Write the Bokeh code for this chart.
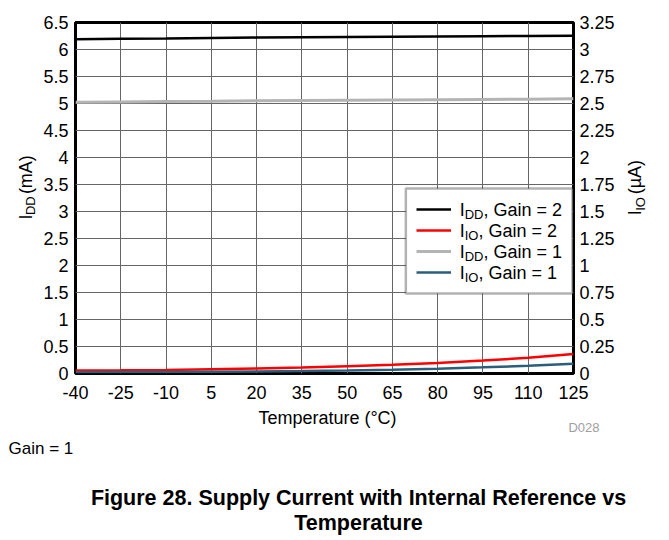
import math
from bokeh.plotting import figure
from bokeh.layouts import row, column
from bokeh.models import (Range1d, LinearAxis, FixedTicker, Legend, LegendItem,
                          Label, BoxAnnotation)
from bokeh.embed import file_html
from bokeh.resources import INLINE

# ---------------- data ----------------
temps = [-40, -25, -10, 5, 20, 35, 50, 65, 80, 95, 110, 125]
idd_gain2 = [6.19, 6.20, 6.205, 6.215, 6.22, 6.225, 6.23, 6.235, 6.24, 6.245, 6.25, 6.255]
iio_gain2 = [0.028, 0.030, 0.033, 0.040, 0.046, 0.056, 0.068, 0.080, 0.097, 0.120, 0.145, 0.180]
idd_gain1 = [5.025, 5.03, 5.035, 5.04, 5.05, 5.055, 5.06, 5.065, 5.07, 5.075, 5.08, 5.088]
iio_gain1 = [0.012, 0.013, 0.014, 0.016, 0.019, 0.023, 0.028, 0.035, 0.045, 0.057, 0.072, 0.090]

x_ticks = [-40, -25, -10, 5, 20, 35, 50, 65, 80, 95, 110, 125]
x_labels = ["-40", "-25", "-10", "5", "20", "35", "50", "65", "80", "95", "110", "125"]
yl_ticks = [0, 0.5, 1, 1.5, 2, 2.5, 3, 3.5, 4, 4.5, 5, 5.5, 6, 6.5]
yl_labels = ["0", "0.5", "1", "1.5", "2", "2.5", "3", "3.5", "4", "4.5", "5", "5.5", "6", "6.5"]
yr_ticks = [0, 0.25, 0.5, 0.75, 1, 1.25, 1.5, 1.75, 2, 2.25, 2.5, 2.75, 3, 3.25]
yr_labels = ["0", "0.25", "0.5", "0.75", "1", "1.25", "1.5", "1.75", "2", "2.25", "2.5", "2.75", "3", "3.25"]

FONT = "Liberation Sans"
TOTAL_W, TOTAL_H = 665, 536
LW, RX = 40, 622           # left title strip width, start x of right title strip
ROW_Y0, ROW_Y1 = 8, 406    # vertical extent of the chart row (page px)
FL, FT, FR, FB = 74, 22, 573, 373  # plot frame in page pixels
MAIN, SUB = 18, 13

# ---------------- main chart ----------------
p = figure(width=RX - LW, height=ROW_Y1 - ROW_Y0, x_range=Range1d(-40, 125),
           y_range=Range1d(0, 6.5), output_backend="svg", toolbar_location=None,
           min_border_left=FL - LW, min_border_right=RX - FR,
           min_border_top=FT - ROW_Y0, min_border_bottom=ROW_Y1 - FB)
p.extra_y_ranges = {"right": Range1d(0, 3.25)}
p.add_layout(LinearAxis(y_range_name="right"), "right")

p.background_fill_color = "white"
p.border_fill_color = "white"
p.outline_line_color = "black"
p.outline_line_width = 3

for ax, ticks, labels in ((p.xaxis[0], x_ticks, x_labels),
                          (p.yaxis[0], yl_ticks, yl_labels),
                          (p.yaxis[1], yr_ticks, yr_labels)):
    ax.ticker = FixedTicker(ticks=ticks)
    ax.major_label_overrides = {t: l for t, l in zip(ticks, labels)}
    ax.axis_line_color = None
    ax.major_tick_line_color = None
    ax.minor_tick_line_color = None
    ax.major_tick_out = 0
    ax.major_tick_in = 0
    ax.major_label_text_font = FONT
    ax.major_label_text_font_size = f"{MAIN}px"
    ax.major_label_text_color = "black"
    ax.major_label_standoff = 7
p.xaxis[0].major_label_standoff = 12
p.yaxis[1].major_label_standoff = 6

p.xgrid.ticker = FixedTicker(ticks=x_ticks)
p.ygrid.ticker = FixedTicker(ticks=yl_ticks)
for g in (p.xgrid, p.ygrid):
    g.grid_line_color = "#666666"
    g.grid_line_width = 1


def main_xy(px, py):
    return (-40 + (px - FL) / (FR - FL) * 165, (FB - py) / (FB - FT) * 6.5)


# legend box (white, framed), drawn above the grid
bl, bt = main_xy(405, 188)
br, bb = main_xy(572, 293)
p.add_layout(BoxAnnotation(left=bl, right=br, top=bt, bottom=bb, fill_color="white",
                           fill_alpha=1, line_color="black", line_width=2.5,
                           level="underlay"))

r1 = p.line(temps, idd_gain2, line_color="black", line_width=2.5)
r2 = p.line(temps, iio_gain2, line_color="#ff0000", line_width=2.5, y_range_name="right")
r3 = p.line(temps, idd_gain1, line_color="#b4b4b4", line_width=3)
r4 = p.line(temps, iio_gain1, line_color="#2b5e7b", line_width=2.5, y_range_name="right")

legend = Legend(items=[LegendItem(label=" ", renderers=[r]) for r in (r1, r2, r3, r4)],
                location=(415 - FL, FB - 282), padding=0, spacing=1, glyph_width=35,
                glyph_height=20, label_height=20, label_width=100, label_standoff=10,
                label_text_font_size="10px", border_line_color=None,
                background_fill_alpha=0, margin=0)
p.add_layout(legend)

# ---------------- text helpers ----------------
AW = {'I': 278, 'D': 722, 'O': 778, ',': 278, ' ': 278, 'G': 778, 'a': 556, 'i': 222,
      'n': 556, '=': 584, '1': 556, '2': 556, '(': 333, ')': 333, 'm': 833, 'A': 667,
      'µ': 576}


def tw(s, size):
    return sum(AW.get(c, 556) for c in s) / 1000.0 * size


def label(fig, conv, text, px, py, size, align="left", bold=False, color="black", angle=0.0):
    """px, py: anchor with py at the visual middle of the text (page pixels)."""
    x, y = conv(px, py)
    fig.add_layout(Label(x=x, y=y, text=text, text_font=FONT, text_font_size=f"{size}px",
                         text_align=align, text_baseline="middle", angle=angle,
                         text_color=color, text_font_style="bold" if bold else "normal"))


SUB_SHIFT = 5.2


def rich(fig, conv, parts, px, py, vertical=False):
    pos = 0.0
    for text, size, is_sub in parts:
        lead = len(text) - len(text.lstrip(" "))
        pos += tw(" " * lead, size)
        body = text.lstrip(" ")
        shift = SUB_SHIFT if is_sub else 0
        if vertical:
            label(fig, conv, body, px + shift, py - pos, size, angle=math.pi / 2)
        else:
            label(fig, conv, body, px + pos, py + shift, size)
        pos += tw(body, size)


rows = [("DD", "2"), ("IO", "2"), ("DD", "1"), ("IO", "1")]
for k, (sub, gain) in enumerate(rows):
    cy = 209 + k * 21
    rich(p, main_xy, [("I", MAIN, False), (sub, SUB, True), (", Gain = " + gain, MAIN, False)],
         459, cy)


def strip(w, h, x0, y0):
    f = figure(width=w, height=h, x_range=Range1d(x0, x0 + w), y_range=Range1d(y0 + h, y0),
               output_backend="svg", toolbar_location=None, x_axis_location=None,
               y_axis_location=None, min_border=0)
    f.outline_line_color = None
    f.background_fill_color = "white"
    f.border_fill_color = "white"
    f.xgrid.visible = False
    f.ygrid.visible = False
    return f


def ident(px, py):
    return px, py


# top spacer
tf = strip(TOTAL_W, ROW_Y0, 0, 0)

# left / right axis titles
lf = strip(LW, ROW_Y1 - ROW_Y0, 0, ROW_Y0)
left_parts = [("I", MAIN, False), ("DD", SUB, True), (" (mA)", MAIN, False)]
lw_ = sum(tw(t, s) for t, s, _ in left_parts)
rich(lf, ident, left_parts, 25, (FT + FB) / 2 + lw_ / 2, vertical=True)

rf = strip(TOTAL_W - RX, ROW_Y1 - ROW_Y0, RX, ROW_Y0)
right_parts = [("I", MAIN, False), ("IO", SUB, True), (" (µA)", MAIN, False)]
rw_ = sum(tw(t, s) for t, s, _ in right_parts)
rich(rf, ident, right_parts, 634.5, (FT + FB) / 2 + rw_ / 2, vertical=True)

# bottom texts
bf = strip(TOTAL_W, TOTAL_H - ROW_Y1, 0, ROW_Y1)
label(bf, ident, "Temperature (°C)", 327, 417, MAIN, align="center")
label(bf, ident, "D028", 599, 427, 13, align="right", color="#a0a0a0")
label(bf, ident, "Gain = 1", 8, 448, 17)
label(bf, ident, "Figure 28. Supply Current with Internal Reference vs", 358, 497, 21.5,
      align="center", bold=True)
label(bf, ident, "Temperature", 358, 522, 21.5, align="center", bold=True)

layout = column(tf, row(lf, p, rf), bf)
open("out.html", "w").write(file_html(layout, INLINE))
